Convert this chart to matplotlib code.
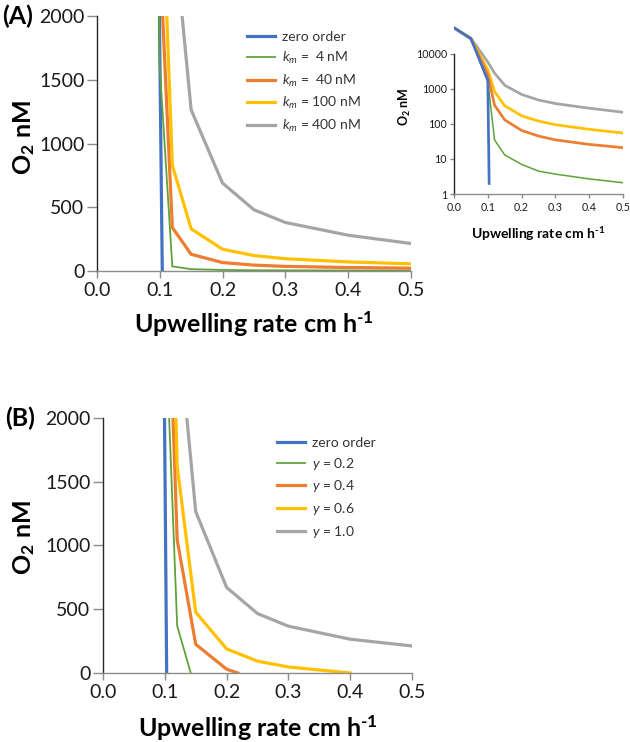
import numpy as np
import matplotlib
matplotlib.use('Agg')
import matplotlib.pyplot as plt

plt.rcParams['font.family'] = ['Lato', 'DejaVu Sans']
plt.rcParams['mathtext.fontset'] = 'custom'
plt.rcParams['mathtext.rm'] = 'Lato'
plt.rcParams['mathtext.it'] = 'Lato:italic'
plt.rcParams['mathtext.bf'] = 'Lato:bold'

# ---- panel A data (upwelling rate cm/h vs O2 nM) ----
rate_km = [0, 0.05, 0.1, 0.12, 0.15, 0.2, 0.25, 0.3, 0.4, 0.5]
rate_zero = [0, 0.05, 0.1, 0.104]
o2_zero = [55000, 27000, 1750, 2]
o2_km4 = [55000, 27000, 1600, 35, 13, 7, 4.5, 3.7, 2.7, 2.1]
o2_km40 = [55000, 27000, 2500, 340, 130, 65, 45, 35, 26, 21]
o2_km100 = [55000, 27000, 3500, 830, 330, 170, 120, 95, 70, 55]
o2_km400 = [55000, 28000, 5800, 2800, 1265, 690, 480, 380, 280, 215]
labels_a = ['zero order', r'$k_m$ =  4 nM', r'$k_m$ =  40 nM',
            r'$k_m$ = 100 nM', r'$k_m$ = 400 nM']

# ---- panel B data ----
rate_b_zero = [0.05, 0.1, 0.103]
o2_b_zero = [27000, 1750, 0]
rate_b_02 = [0.05, 0.1, 0.12, 0.142]
o2_b_02 = [27000, 2880, 370, 0]
rate_b_04 = [0.05, 0.1, 0.12, 0.15, 0.2, 0.218]
o2_b_04 = [27000, 3900, 1045, 225, 30, 0]
rate_b_06 = [0.05, 0.1, 0.12, 0.15, 0.2, 0.25, 0.3, 0.4]
o2_b_06 = [27000, 5400, 1620, 477, 189, 93, 47, 0]
rate_b_10 = [0.05, 0.1, 0.12, 0.15, 0.2, 0.25, 0.3, 0.4, 0.5]
o2_b_10 = [28000, 5800, 2800, 1266, 671, 466, 367, 265, 212]
labels_b = ['zero order', r'$y$ = 0.2', r'$y$ = 0.4', r'$y$ = 0.6', r'$y$ = 1.0']

colors = ['#4472C4', '#5FA23A', '#ED7D31', '#FFC000', '#A5A5A5']
widths = [2.3, 1.3, 2.3, 2.3, 2.3]
ycol = '#262626'
xcol = '#8c8c8c'
xlab = 'Upwelling rate cm h$^{\\mathbf{\u2010}\\mathbf{1}}$'
ylab = r'O$_{\mathbf{2}}$ nM'

fig = plt.figure(figsize=(6.3, 7.42), dpi=100)

def style_axes(ax, size, xlen, ylen):
    for s in ['top', 'right']:
        ax.spines[s].set_visible(False)
    ax.spines['left'].set_color(ycol)
    ax.spines['bottom'].set_color(xcol)
    ax.spines['left'].set_linewidth(1.0)
    ax.spines['bottom'].set_linewidth(1.0)
    ax.tick_params(axis='x', colors=xcol, labelcolor='#1a1a1a', labelsize=size,
                   length=xlen, width=1.0, pad=3)
    ax.tick_params(axis='y', colors=xcol, labelcolor='#1a1a1a', labelsize=size,
                   length=ylen, width=1.0, pad=2)

def lin_panel(rect, series, labels, tag, tag_x, ylab_xy, xlab_y, leg_xy):
    ax = fig.add_axes(rect)
    for (x, y), c, w, lab in zip(series, colors, widths, labels):
        ax.plot(x, y, color=c, lw=w, label=lab, solid_joinstyle='miter')
    ax.set_xlim(0, 0.5)
    ax.set_ylim(0, 2000)
    ax.set_xticks(np.arange(0, 0.51, 0.1))
    ax.set_xticklabels(['%.1f' % v for v in np.arange(0, 0.51, 0.1)])
    ax.set_yticks([0, 500, 1000, 1500, 2000])
    style_axes(ax, 14, 5, 7)
    ax.set_ylabel(ylab, fontsize=18, fontweight='bold')
    ax.yaxis.set_label_coords(*ylab_xy)
    ax.set_xlabel(xlab, fontsize=18, fontweight='bold')
    ax.xaxis.set_label_coords(0.5, xlab_y)
    ax.text(tag_x, 1.0, tag, transform=ax.transAxes, fontsize=18, fontweight='bold',
            ha='right', va='center')
    leg = ax.legend(loc='upper left', bbox_to_anchor=leg_xy, bbox_transform=fig.transFigure,
                    frameon=False, fontsize=10, handlelength=2.0, handletextpad=0.5,
                    labelspacing=0.48, borderpad=0, borderaxespad=0)
    for t in leg.get_texts():
        t.set_color('#333333')
    return ax

# panel A main
lin_panel([0.154, 0.635, 0.498, 0.343],
          [(rate_zero, o2_zero), (rate_km, o2_km4), (rate_km, o2_km40),
           (rate_km, o2_km100), (rate_km, o2_km400)],
          labels_a, '(A)', -0.204, (-0.191, 0.525), -0.15, (247 / 630, 1 - 31 / 742))

# panel A inset (log)
axi = fig.add_axes([0.7206, 0.7385, 0.2684, 0.2363])
for (x, y), c, w in zip([(rate_zero, o2_zero), (rate_km, o2_km4), (rate_km, o2_km40),
                         (rate_km, o2_km100), (rate_km, o2_km400)][::-1],
                        colors[::-1], widths[::-1]):
    axi.plot(x, y, color=c, lw=w * 0.85)
axi.set_yscale('log')
axi.set_xlim(0, 0.5)
axi.set_ylim(1, 1e5)
axi.set_yticks([1, 10, 100, 1000, 10000])
axi.set_yticklabels(['1', '10', '100', '1000', '10000'])
axi.minorticks_off()
axi.set_xticks(np.arange(0, 0.51, 0.1))
axi.set_xticklabels(['%.1f' % v for v in np.arange(0, 0.51, 0.1)])
style_axes(axi, 7.7, 3, 3)
axi.spines['left'].set_bounds(1, 10000)
axi.set_ylabel(ylab, fontsize=9, fontweight='bold')
axi.yaxis.set_label_coords(-0.24, 0.5)
axi.set_xlabel(xlab, fontsize=10, fontweight='bold')
axi.xaxis.set_label_coords(0.5, -0.18)

# panel B
lin_panel([0.1635, 0.093, 0.4905, 0.3437],
          [(rate_b_zero, o2_b_zero), (rate_b_02, o2_b_02), (rate_b_04, o2_b_04),
           (rate_b_06, o2_b_06), (rate_b_10, o2_b_10)],
          labels_b, '(B)', -0.22, (-0.214, 0.533), -0.157, (277 / 630, 1 - 437 / 742))

fig.savefig('out.png', dpi=100)
